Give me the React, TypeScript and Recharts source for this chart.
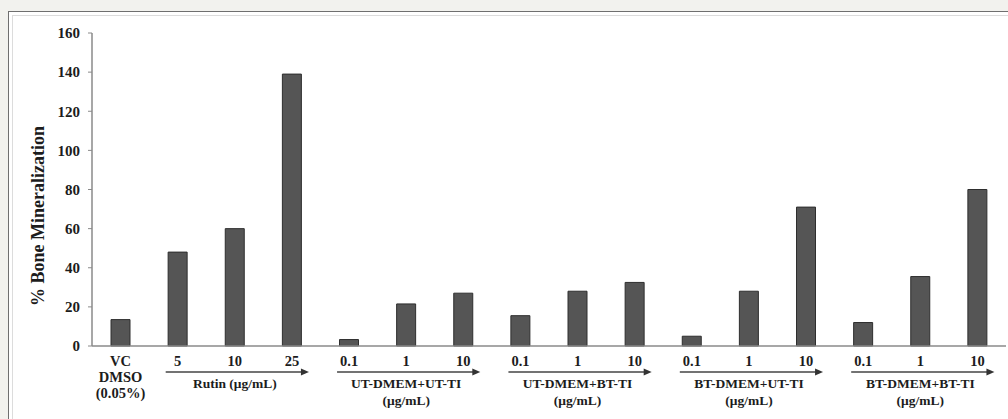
import React from "react";
import { BarChart, Bar, XAxis, YAxis } from "recharts";

const categories = ["VC", "5", "10", "25", "0.1", "1", "10", "0.1", "1", "10", "0.1", "1", "10", "0.1", "1", "10"];
const mineralization = [13.5, 48, 60, 139, 3.3, 21.5, 27, 15.5, 28, 32.5, 5, 28, 71, 12, 35.5, 80];
const yTicks = [0, 20, 40, 60, 80, 100, 120, 140, 160];
const groupLabels = ["Rutin (μg/mL)", "UT-DMEM+UT-TI", "UT-DMEM+BT-TI", "BT-DMEM+UT-TI", "BT-DMEM+BT-TI"];
const groupUnits = ["", "(μg/mL)", "(μg/mL)", "(μg/mL)", "(μg/mL)"];
const groupStarts = [1, 4, 7, 10, 13];
const controlLines = ["VC", "DMSO", "(0.05%)"];

const data = categories.map((c, i) => ({ id: i, name: c, value: mineralization[i] }));

const W = 1008;
const H = 419;
const X_AXIS_H = 30;
const margin = { top: 33, right: 2, left: 0, bottom: 73 - X_AXIS_H };
const Y_AXIS_W = 92;
const PLOT_W = W - Y_AXIS_W - margin.right;
const STEP = PLOT_W / categories.length;

const FONT = "'Liberation Serif', 'Times New Roman', serif";
const INK = "#1c1c1c";

function XTick(props: any) {
  const { x, y, payload } = props;
  const i = payload.value as number;
  const out: React.ReactNode[] = [];
  if (i === 0) {
    controlLines.forEach((t, k) => {
      out.push(
        <text key={"c" + k} x={x} y={y + 20 + k * 16} textAnchor="middle" fontFamily={FONT} fontWeight="bold" fontSize={14.5} fill={INK}>
          {t}
        </text>
      );
    });
  } else {
    out.push(
      <text key="n" x={x} y={y + 20} textAnchor="middle" fontFamily={FONT} fontWeight="bold" fontSize={14.5} fill={INK}>
        {categories[i]}
      </text>
    );
  }
  const g = groupStarts.indexOf(i);
  if (g >= 0) {
    const x1 = x - 12;
    const x2 = x + 2 * STEP + 17;
    const ay = y + 26;
    const mid = x + STEP;
    out.push(
      <g key="arrow">
        <line x1={x1} y1={ay} x2={x2 - 6} y2={ay} stroke="#444" strokeWidth={1.5} />
        <polygon points={`${x2},${ay} ${x2 - 8},${ay - 3.5} ${x2 - 8},${ay + 3.5}`} fill="#333" />
        <text x={mid} y={y + 42} textAnchor="middle" fontFamily={FONT} fontWeight="bold" fontSize={13.5} fill={INK}>
          {groupLabels[g]}
        </text>
        {groupUnits[g] && (
          <text x={mid} y={y + 59} textAnchor="middle" fontFamily={FONT} fontWeight="bold" fontSize={13.5} fill={INK}>
            {groupUnits[g]}
          </text>
        )}
      </g>
    );
  }
  return <g>{out}</g>;
}

export default function App() {
  return (
    <div style={{ position: "absolute", left: 0, top: 0, width: W, height: H, background: "#f2f2ee", overflow: "hidden" }}>
      <div
        style={{
          position: "absolute",
          left: 8,
          top: 11,
          width: W,
          height: H,
          background: "#ffffff",
          borderTop: "1px solid #6f6f6f",
          borderLeft: "1px solid #6f6f6f",
        }}
      >
        <div
          style={{
            position: "absolute",
            left: 3,
            top: 3,
            right: 0,
            bottom: 0,
            borderTop: "1px solid #dcdcdc",
            borderLeft: "1px solid #dcdcdc",
          }}
        />
      </div>
      <div style={{ position: "absolute", left: 0, top: 0 }}>
        <BarChart width={W} height={H} data={data} margin={margin} barCategoryGap={0}>
          <YAxis
            type="number"
            domain={[0, 160]}
            ticks={yTicks}
            width={Y_AXIS_W}
            axisLine={{ stroke: "#8a8a8a", strokeWidth: 1.5 }}
            tickLine={{ stroke: "#8a8a8a" }}
            tickSize={4}
            tickMargin={8}
            tick={{ fontFamily: FONT, fontWeight: "bold", fontSize: 15, fill: INK }}
            label={() => (
              <text
                x={38}
                y={216}
                transform="rotate(-90 38 216)"
                textAnchor="middle"
                dominantBaseline="central"
                fontFamily={FONT}
                fontWeight="bold"
                fontSize={18}
                fill={INK}
              >
                % Bone Mineralization
              </text>
            )}
          />
          <XAxis
            dataKey="id"
            type="category"
            height={X_AXIS_H}
            axisLine={{ stroke: "#8a8a8a", strokeWidth: 1.5 }}
            tickLine={false}
            tickSize={0}
            tickMargin={0}
            interval={0}
            tick={<XTick />}
          />
          <Bar dataKey="value" barSize={19} fill="#555555" stroke="#2e2e2e" strokeWidth={1} isAnimationActive={false} />
        </BarChart>
      </div>
    </div>
  );
}
